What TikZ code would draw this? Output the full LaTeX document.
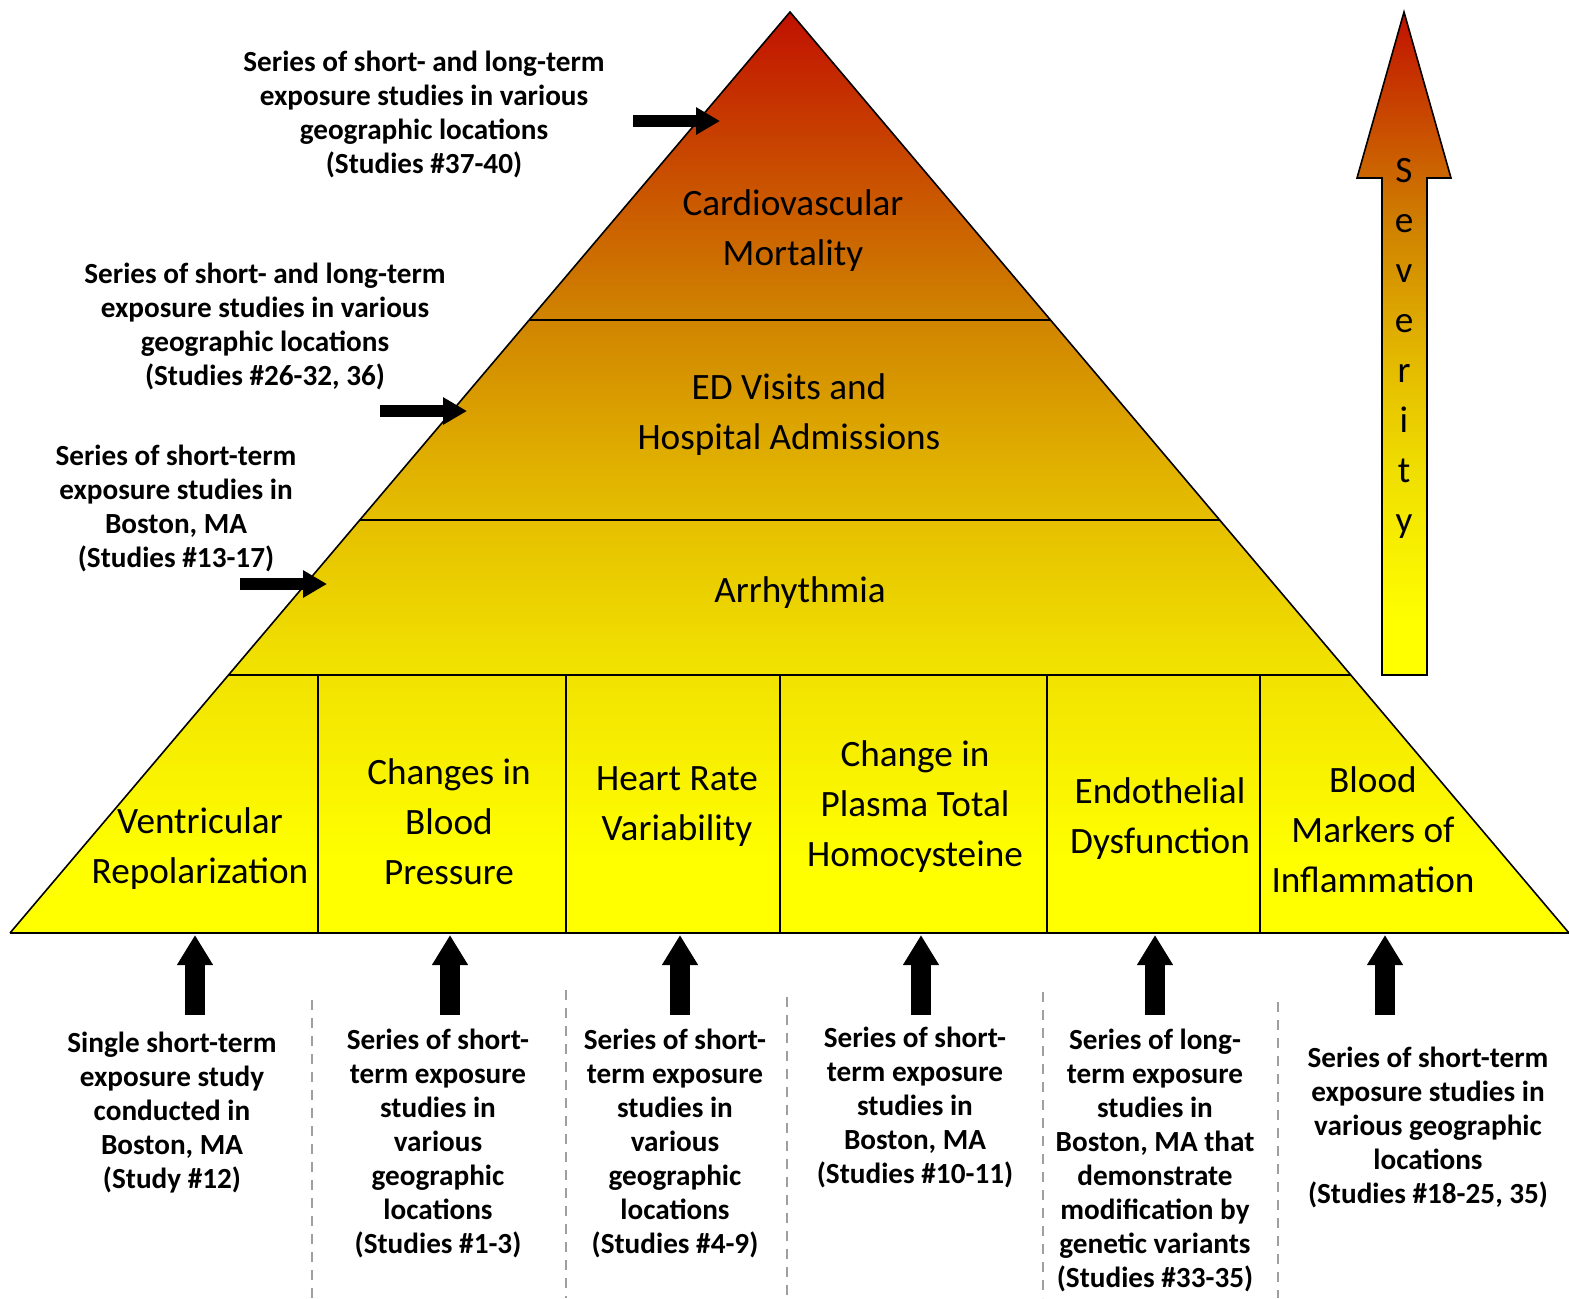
\documentclass[tikz,border=0pt]{standalone}
\usepackage{fontspec}
\setmainfont{Carlito}
\usetikzlibrary{arrows.meta,calc,positioning}

% red at the top of the pyramid, yellow at its base
\definecolor{sevA}{RGB}{192,16,0}
\definecolor{sevB}{RGB}{196,38,0}
\definecolor{sevC}{RGB}{207,128,0}
\definecolor{sevD}{RGB}{227,184,0}
\definecolor{sevE}{RGB}{240,224,0}
\definecolor{sevF}{RGB}{255,255,0}
\pgfdeclareverticalshading{sevshade}{100bp}{color(0bp)=(sevF); color(29bp)=(sevF); color(40bp)=(sevE); color(49bp)=(sevD); color(59bp)=(sevC); color(72bp)=(sevB); color(75bp)=(sevA); color(100bp)=(sevA)}

\tikzset{
    tier/.style={font=\fontsize{18.6}{25}\selectfont, align=center, inner sep=0pt},
    study/.style={font=\fontsize{14.6}{17}\selectfont\bfseries, align=center, inner sep=0pt},
    blockup/.style={line width=10pt, -{Triangle[length=15pt,width=17pt]}},
    blockright/.style={line width=6pt, -{Triangle[length=12pt,width=13pt]}},
    divider/.style={draw=gray!75, dash pattern=on 5pt off 4pt, line width=0.7pt},
    edge/.style={line width=0.8pt}
}

\begin{document}
\begin{tikzpicture}[x=0.5pt,y=-0.5pt]
    \path[fill=white,use as bounding box] (0,0) rectangle (1569,1298);
    % pyramid
    \coordinate (apex) at (790,12);
    \coordinate (bl) at (10,933);
    \coordinate (br) at (1569,933);
    \shade[shading=sevshade] (apex) -- (br) -- (bl) -- cycle;
    \draw[edge] (bl) -- (apex) -- (br);
    \draw[line width=1.4pt] (bl) -- (br);
    \foreach \t/\n in {0.3344/1, 0.5516/2, 0.7199/3}{
        \coordinate (l\n) at ($(apex)!\t!(bl)$);
        \coordinate (r\n) at ($(apex)!\t!(br)$);
        \draw[edge] (l\n) -- (r\n);
    }
    \foreach \x in {318,566,780,1047,1260}
        \draw[edge] (\x,675) -- (\x,933);

    % tiers
    \node[tier] (mort) at (793,231) {Cardiovascular\\Mortality};
    \node[tier] (ed) at (789,415) {ED Visits and\\Hospital Admissions};
    \node[tier] (arr) at (800,593) {Arrhythmia};
    \node[tier] (vent) at (200,849) {Ventricular\\Repolarization};
    \node[tier] (bp) at (449,822) {Changes in\\Blood\\Pressure};
    \node[tier] (hrv) at (677,807) {Heart Rate\\Variability};
    \node[tier] (hcy) at (915,807) {Change in\\Plasma Total\\Homocysteine};
    \node[tier] (endo) at (1160,819) {Endothelial\\Dysfunction};
    \node[tier] (infl) at (1373,830) {Blood\\Markers of\\Inflammation};

    % severity arrow
    \shadedraw[shading=sevshade, edge] (1382,675) -- (1382,178) -- (1357,178) -- (1404,12)
        -- (1451,178) -- (1427,178) -- (1427,675) -- cycle;
    \foreach \c [count=\i from 0] in {S,e,v,e,r,i,t,y}
        \node[tier, anchor=base] (sev\i) at (1404,{182+50*\i}) {\c};

    % studies on the upper tiers
    \node[study] (s37) at (424,114) {Series of short- and long-term\\exposure studies in various\\geographic locations\\(Studies \#37-40)};
    \node[study] (s26) at (265,326) {Series of short- and long-term\\exposure studies in various\\geographic locations\\(Studies \#26-32, 36)};
    \node[study] (s13) at (176,508) {Series of short-term\\exposure studies in\\Boston, MA\\(Studies \#13-17)};
    \foreach \n/\xa/\xb/\y in {37/633/720/121, 26/380/467/411, 13/240/327/584}{
        \coordinate (st\n) at (\xa,\y);
        \coordinate (sh\n) at (\xb,\y);
        \draw[blockright] (st\n) -- (sh\n);
    }

    % studies on the bottom tier
    \node[study] (b1) at (172,1113) {Single short-term\\exposure study\\conducted in\\Boston, MA\\(Study \#12)};
    \node[study] (b2) at (438,1143) {Series of short-\\term exposure\\studies in\\various\\geographic\\locations\\(Studies \#1-3)};
    \node[study] (b3) at (675,1143) {Series of short-\\term exposure\\studies in\\various\\geographic\\locations\\(Studies \#4-9)};
    \node[study] (b4) at (915,1107) {Series of short-\\term exposure\\studies in\\Boston, MA\\(Studies \#10-11)};
    \node[study] (b5) at (1155,1160) {Series of long-\\term exposure\\studies in\\Boston, MA that\\demonstrate\\modification by\\genetic variants\\(Studies \#33-35)};
    \node[study] (b6) at (1428,1127) {Series of short-term\\exposure studies in\\various geographic\\locations\\(Studies \#18-25, 35)};
    \foreach \x/\y in {312/1000, 566/990, 787/997, 1043/992, 1278/1002}
        \draw[divider] (\x,\y) -- (\x,1298);
    \foreach \x [count=\i] in {195,450,680,921,1155,1385}{
        \coordinate (ut\i) at (\x,1015);
        \coordinate (uh\i) at (\x,935);
        \draw[blockup] (ut\i) -- (uh\i);
    }
\end{tikzpicture}
\end{document}
